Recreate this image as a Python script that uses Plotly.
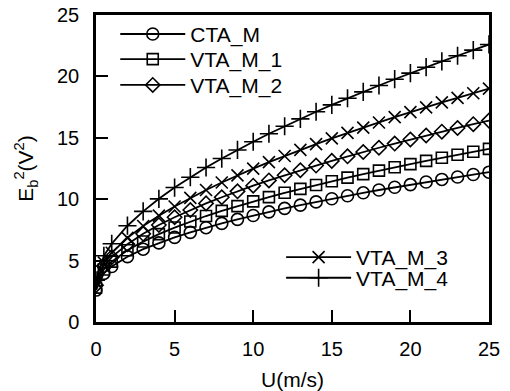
import plotly.graph_objects as go

# Air speed (m/s) at which each calibration point was taken
speed = [0, 0.5, 1, 2, 3, 4, 5, 6, 7, 8, 9, 10, 11, 12, 13, 14, 15, 16, 17,
         18, 19, 20, 21, 22, 23, 24, 25]

# Squared bridge voltage E_b^2 (V^2) for each anemometer mode
cta_m = [2.60, 3.96, 4.52, 5.32, 5.93, 6.44, 6.89, 7.30, 7.68, 8.03, 8.36,
         8.67, 8.97, 9.25, 9.52, 9.78, 10.04, 10.28, 10.52, 10.75, 10.97,
         11.19, 11.40, 11.61, 11.81, 12.01, 12.20]
vta_m_1 = [2.80, 4.28, 4.92, 5.84, 6.55, 7.16, 7.69, 8.18, 8.63, 9.05, 9.44,
           9.82, 10.17, 10.52, 10.84, 11.16, 11.46, 11.76, 12.04, 12.33,
           12.60, 12.86, 13.12, 13.37, 13.62, 13.87, 14.10]
vta_m_2 = [3.00, 4.56, 5.28, 6.34, 7.18, 7.90, 8.53, 9.12, 9.66, 10.16,
           10.64, 11.10, 11.53, 11.95, 12.36, 12.74, 13.12, 13.49, 13.84,
           14.19, 14.53, 14.86, 15.19, 15.50, 15.80, 16.11, 16.40]
vta_m_3 = [3.20, 4.83, 5.64, 6.85, 7.82, 8.66, 9.41, 10.11, 10.75, 11.36,
           11.94, 12.49, 13.02, 13.52, 14.02, 14.49, 14.95, 15.40, 15.83,
           16.25, 16.68, 17.09, 17.48, 17.88, 18.25, 18.63, 19.00]
vta_m_4 = [3.40, 5.39, 6.37, 7.84, 9.01, 10.03, 10.95, 11.79, 12.58, 13.31,
           14.01, 14.68, 15.33, 15.94, 16.54, 17.12, 17.68, 18.22, 18.74,
           19.26, 19.77, 20.27, 20.75, 21.23, 21.68, 22.14, 22.60]

axis_ticks = [0, 5, 10, 15, 20, 25]

series = [
    ("CTA_M", cta_m, "circle-open", 12),
    ("VTA_M_1", vta_m_1, "square-open", 11),
    ("VTA_M_2", vta_m_2, "diamond-open", 11),
    ("VTA_M_3", vta_m_3, "x-thin-open", 12),
    ("VTA_M_4", vta_m_4, "cross-thin-open", 13),
]

FONT = "Liberation Sans, Arial, sans-serif"

fig = go.Figure()
legend_ids = ["legend", "legend2", "legend3", "legend4", "legend5"]
for (name, vals, sym, size), lid in zip(series, legend_ids):
    fig.add_trace(go.Scatter(
        x=speed, y=vals, name=name, mode="lines+markers",
        line=dict(color="black", width=1.8),
        marker=dict(symbol=sym, size=size, color="black",
                    line=dict(color="black", width=1.6)),
        legend=lid,
    ))

# Legend rows: three at top-left, two at lower right
legend_pos = [(0.049, 0.937), (0.049, 0.855), (0.049, 0.771),
              (0.471, 0.210), (0.471, 0.143)]
legend_font = dict(family=FONT, size=21, color="black")
for lid, (lx, ly) in zip(legend_ids, legend_pos):
    fig.update_layout({lid: dict(x=lx, y=ly, xanchor="left", yanchor="middle",
                                 bgcolor="rgba(0,0,0,0)", borderwidth=0,
                                 font=legend_font, itemwidth=65)})

axis_common = dict(
    range=[0, 25], tickvals=axis_ticks, ticks="inside", ticklen=12,
    tickwidth=2, tickcolor="black", showline=True, linecolor="black",
    linewidth=2.5, mirror=True, showgrid=False, zeroline=False,
    automargin=False,
    tickfont=dict(family=FONT, size=20, color="black"),
)

fig.update_xaxes(**axis_common, ticklabelstandoff=7,
                 title=dict(text="U(m/s)", standoff=15,
                            font=dict(family=FONT, size=21, color="black")))
fig.update_yaxes(**axis_common, ticklabelstandoff=10,
                 title=dict(text="E<sub>b</sub><sup>2</sup>(V<sup>2</sup>)",
                            standoff=18,
                            font=dict(family=FONT, size=21, color="black")))

fig.update_layout(
    width=510, height=391, autosize=False,
    margin=dict(l=96, r=21, t=15, b=69),
    plot_bgcolor="white", paper_bgcolor="white",
    showlegend=True,
)

fig.write_html("out.html")
